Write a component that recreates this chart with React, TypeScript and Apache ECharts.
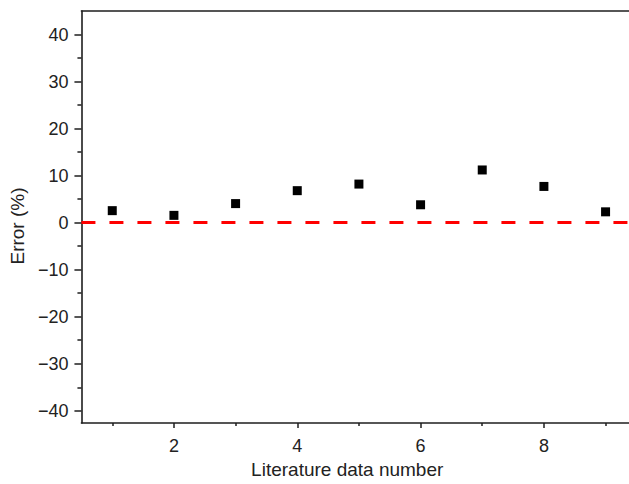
import React, { useEffect, useRef } from "react";
import * as echarts from "echarts";

const xValues = [1, 2, 3, 4, 5, 6, 7, 8, 9];
const errorValues = [2.55, 1.55, 4.05, 6.8, 8.2, 3.8, 11.2, 7.7, 2.3];
const yMajorTicks = [-40, -30, -20, -10, 0, 10, 20, 30, 40];
const yMinorTicks = [-35, -25, -15, -5, 5, 15, 25, 35];
const xMajorTicks = [2, 4, 6, 8];
const xMinorTicks = [1, 3, 5, 7, 9];
const referenceLine = 0;

const FONT = "'Liberation Sans', Arial, sans-serif";
const AXIS_COLOR = "#1e1e1e";
const TEXT_COLOR = "#222222";

export default function App() {
  const ref = useRef<HTMLDivElement>(null);
  useEffect(() => {
    if (!ref.current) return;
    const chart = echarts.init(ref.current, undefined, { renderer: "svg" });
    const X_MIN = 0.5;
    const X_MAX = 9.38;
    const Y_MIN = -42.6;
    const Y_MAX = 45;
    const fmt = (v: number) => String(v).replace("-", "\u2212");
    chart.setOption({
      animation: false,
      backgroundColor: "#ffffff",
      grid: { left: 81, right: 0, top: 11, bottom: 61, containLabel: false },
      xAxis: [
        {
          type: "value",
          min: X_MIN,
          max: X_MAX,
          position: "bottom",
          name: "Literature data number",
          nameLocation: "middle",
          nameGap: 34,
          nameTextStyle: { fontFamily: FONT, fontSize: 19, color: TEXT_COLOR, padding: [0, 16, 0, 0] },
          axisLine: { show: true, onZero: false, lineStyle: { color: AXIS_COLOR, width: 1.6 } },
          axisTick: { show: true, inside: false, length: 5, customValues: xMajorTicks, lineStyle: { color: AXIS_COLOR, width: 1.5 } },
          axisLabel: { show: true, customValues: xMajorTicks, margin: 14, fontFamily: FONT, fontSize: 18, color: TEXT_COLOR },
          splitLine: { show: false },
        },
        {
          type: "value",
          min: X_MIN,
          max: X_MAX,
          position: "bottom",
          axisLine: { show: false, onZero: false },
          axisTick: { show: true, inside: false, length: 3, customValues: xMinorTicks, lineStyle: { color: AXIS_COLOR, width: 1.5 } },
          axisLabel: { show: false },
          splitLine: { show: false },
        },
        {
          type: "value",
          min: X_MIN,
          max: X_MAX,
          position: "top",
          axisLine: { show: true, onZero: false, lineStyle: { color: AXIS_COLOR, width: 1.6 } },
          axisTick: { show: false },
          axisLabel: { show: false },
          splitLine: { show: false },
        },
      ],
      yAxis: [
        {
          type: "value",
          min: Y_MIN,
          max: Y_MAX,
          position: "left",
          name: "Error (%)",
          nameLocation: "middle",
          nameGap: 52,
          nameTextStyle: { fontFamily: FONT, fontSize: 19, color: TEXT_COLOR, padding: [0, 18, 0, 0] },
          axisLine: { show: true, onZero: false, lineStyle: { color: AXIS_COLOR, width: 1.6 } },
          axisTick: { show: true, inside: false, length: 7, customValues: yMajorTicks, lineStyle: { color: AXIS_COLOR, width: 1.5 } },
          axisLabel: { show: true, customValues: yMajorTicks, margin: 13, fontFamily: FONT, fontSize: 18, color: TEXT_COLOR, formatter: fmt },
          splitLine: { show: false },
        },
        {
          type: "value",
          min: Y_MIN,
          max: Y_MAX,
          position: "left",
          axisLine: { show: false, onZero: false },
          axisTick: { show: true, inside: false, length: 4, customValues: yMinorTicks, lineStyle: { color: AXIS_COLOR, width: 1.5 } },
          axisLabel: { show: false },
          splitLine: { show: false },
        },
      ],
      series: [
        {
          type: "scatter",
          xAxisIndex: 0,
          yAxisIndex: 0,
          symbol: "rect",
          symbolSize: 9,
          itemStyle: { color: "#000000", opacity: 1 },
          data: xValues.map((x, i) => [x, errorValues[i]]),
          z: 5,
          markLine: {
            silent: true,
            symbol: ["none", "none"],
            label: { show: false },
            lineStyle: { color: "#ff0000", width: 3, type: [14, 14], opacity: 1 },
            data: [{ yAxis: referenceLine }],
          },
        },
      ],
    });
    return () => chart.dispose();
  }, []);
  return (
    <div
      ref={ref}
      style={{ position: "fixed", left: 0, top: 0, width: 629, height: 484, background: "#fff" }}
    />
  );
}
